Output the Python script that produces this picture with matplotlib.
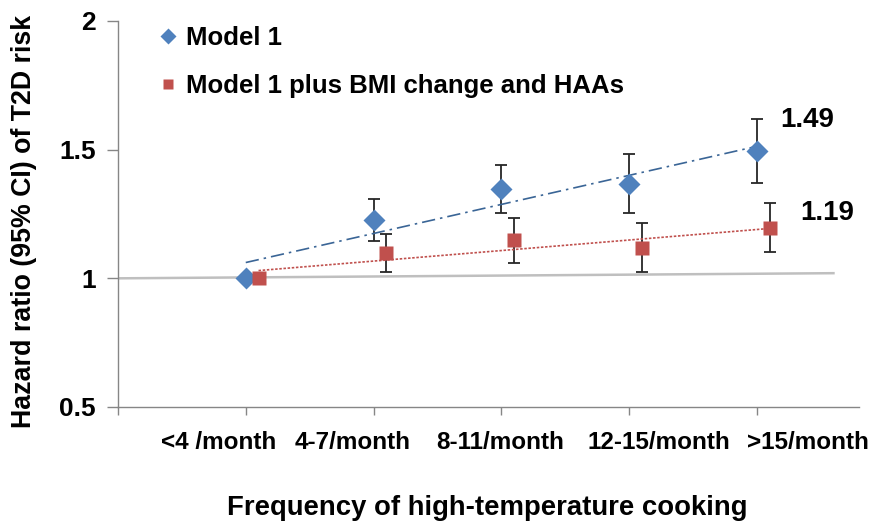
import matplotlib
matplotlib.use("Agg")
import matplotlib.pyplot as plt
import numpy as np

plt.rcParams['font.family'] = ['Liberation Sans', 'DejaVu Sans']

categories = ["<4 /month", "4-7/month", "8-11/month", "12-15/month", ">15/month"]
cat_x = [1, 2, 3, 4, 5]

model1 = [1.00, 1.227, 1.348, 1.366, 1.495]
model1_lo = [1.00, 1.146, 1.252, 1.252, 1.372]
model1_hi = [1.00, 1.31, 1.44, 1.483, 1.62]

model2 = [1.00, 1.098, 1.15, 1.117, 1.195]
model2_lo = [1.00, 1.025, 1.061, 1.024, 1.103]
model2_hi = [1.00, 1.172, 1.234, 1.214, 1.292]

ref_x = [0, 5.6]
ref_y = [1.0, 1.02]

label_m1 = "1.49"
label_m2 = "1.19"

blue = '#4F81BD'
red = '#C0504D'
red_off = 0.1

fig = plt.figure(figsize=(8.72, 5.25), dpi=100)
ax = fig.add_axes([118/872, (525-407)/525, 741/872, 386/525])

ax.plot(ref_x, ref_y, color='#BFBFBF', lw=1.8, zorder=1)

x1 = np.array(cat_x, dtype=float)
x2 = x1 + red_off
m1 = np.array(model1); m2 = np.array(model2)

ax.errorbar(x1[1:], m1[1:], yerr=[m1[1:] - np.array(model1_lo[1:]), np.array(model1_hi[1:]) - m1[1:]],
            fmt='none', ecolor='#262626', elinewidth=1.3, capsize=4.5, capthick=1.3, zorder=2)
ax.errorbar(x2[1:], m2[1:], yerr=[m2[1:] - np.array(model2_lo[1:]), np.array(model2_hi[1:]) - m2[1:]],
            fmt='none', ecolor='#262626', elinewidth=1.3, capsize=4.5, capthick=1.3, zorder=2)

p1 = np.polyfit(x1, m1, 1)
p2 = np.polyfit(x2, m2, 1)
ax.plot(x1[[0, -1]], np.polyval(p1, x1[[0, -1]]), color='#3A6596', lw=1.2,
        dashes=[8, 3, 1.5, 3], zorder=3)
ax.plot(x2[[0, -1]], np.polyval(p2, x2[[0, -1]]), color=red, lw=1.2,
        linestyle=(0, (1.5, 1)), zorder=3)

ax.plot(x1, m1, 'D', color=blue, ms=11, mec='none', zorder=4, label='Model 1')
ax.plot(x2, m2, 's', color=red, ms=10, mec='none', zorder=4, label='Model 1 plus BMI change and HAAs')

ax.text(5.18, 1.616, label_m1, fontsize=20, fontweight='bold', ha='left', va='center')
ax.text(5.34, 1.255, label_m2, fontsize=20, fontweight='bold', ha='left', va='center')

ax.set_xlim(0, 5.8)
ax.set_ylim(0.5, 2)
ax.set_yticks([0.5, 1, 1.5, 2])
ax.set_yticklabels(['0.5', '1', '1.5', '2'], fontsize=19, fontweight='bold')

label_pos = [0.79, 1.84, 2.99, 4.23, 5.40]
ax.set_xticks([0, 1, 2, 3, 4, 5], minor=True)
ax.set_xticks(label_pos)
ax.set_xticklabels(categories, fontsize=17.5, fontweight='bold')
ax.tick_params(axis='x', which='major', length=0, pad=17)
ax.tick_params(axis='x', which='minor', length=6, color='#868686', width=1)
ax.tick_params(axis='y', length=8, color='#868686', width=1, pad=8)

for s in ['top', 'right']:
    ax.spines[s].set_visible(False)
for s in ['left', 'bottom']:
    ax.spines[s].set_color('#868686')
    ax.spines[s].set_linewidth(1)

ax.set_xlabel("Frequency of high-temperature cooking", fontsize=19.8, fontweight='bold')
ax.xaxis.set_label_coords(0.498, -0.228)
ax.set_ylabel("Hazard ratio (95% CI) of T2D risk", fontsize=19.3, fontweight='bold')
ax.yaxis.set_label_coords(-0.109, 0.4806)

leg = ax.legend(loc='upper left', bbox_to_anchor=(0.022, 1.048), frameon=False,
                prop={'weight': 'bold', 'size': 18.5}, handlelength=0.8, handletextpad=0.3,
                labelspacing=0.95, markerscale=0.75)

fig.savefig('out.png', dpi=100)
